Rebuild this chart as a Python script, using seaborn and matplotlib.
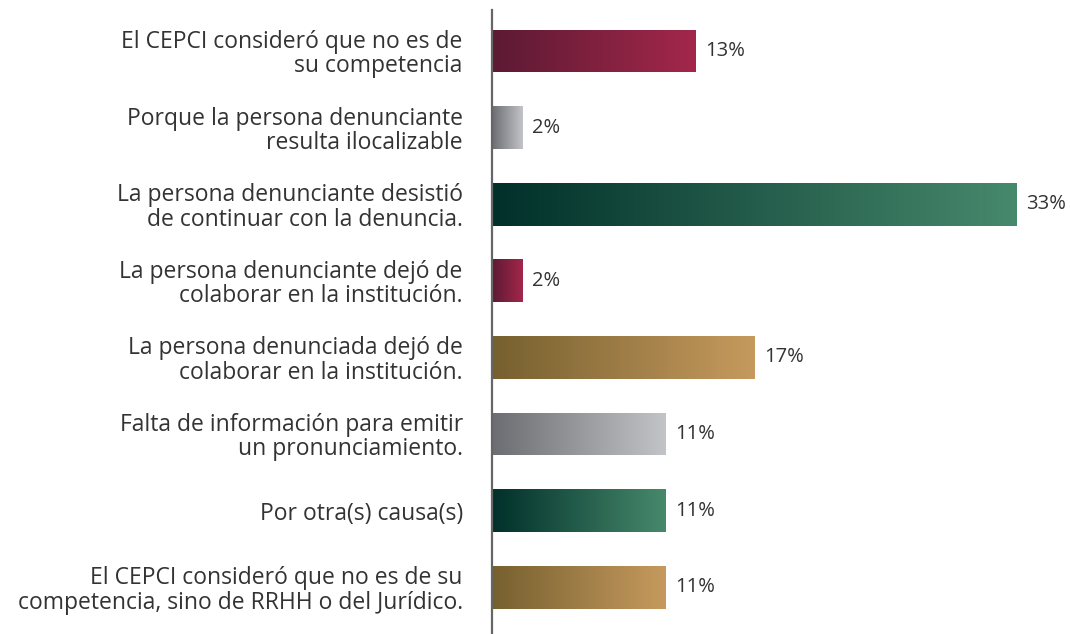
import numpy as np
import pandas as pd
import seaborn as sns
import matplotlib.pyplot as plt
from matplotlib.colors import LinearSegmentedColormap

categories = [
    "El CEPCI consideró que no es de\nsu competencia",
    "Porque la persona denunciante\nresulta ilocalizable",
    "La persona denunciante desistió\nde continuar con la denuncia.",
    "La persona denunciante dejó de\ncolaborar en la institución.",
    "La persona denunciada dejó de\ncolaborar en la institución.",
    "Falta de información para emitir\nun pronunciamiento.",
    "Por otra(s) causa(s)",
    "El CEPCI consideró que no es de su\ncompetencia, sino de RRHH o del Jurídico.",
]
# bar lengths as measured; labels as printed
values = [12.8, 1.9, 33.0, 1.9, 16.5, 10.9, 10.9, 10.9]
value_labels = ["13%", "2%", "33%", "2%", "17%", "11%", "11%", "11%"]

# gradient (dark -> light) per bar
maroon = ("#5c1a33", "#a3274b")
gray = ("#6c6d72", "#c3c4c8")
green = ("#01302a", "#47896c")
gold = ("#76602f", "#c69a5e")
bar_grads = [maroon, gray, green, maroon, gold, gray, green, gold]

sns.set_theme(style="white")
plt.rcParams['font.family'] = ['Open Sans', 'DejaVu Sans']

df = pd.DataFrame({"causa": categories, "pct": values})

fig = plt.figure(figsize=(10.7, 6.34), dpi=100)
ax = fig.add_axes([492 / 1070, 0, 1 - 492 / 1070, 624 / 634])

sns.barplot(data=df, x="pct", y="causa", orient="h", ax=ax,
            color="white", width=0.56, linewidth=0)

xmax = 578 / 15.9

for patch, (c0, c1), lab in zip(ax.patches, bar_grads, value_labels):
    x0, y0 = patch.get_x(), patch.get_y()
    w, h = patch.get_width(), patch.get_height()
    cmap = LinearSegmentedColormap.from_list("g", [c0, c1])
    grad = np.linspace(0, 1, 256).reshape(1, -1)
    im = ax.imshow(grad, cmap=cmap, aspect="auto",
                   extent=[x0, x0 + w, y0 + h, y0], zorder=2)
    im.set_clip_path(patch)
    ax.text(x0 + w + 0.6, y0 + h / 2, lab, va="center", ha="left",
            fontsize=14.5, color="#333333")

ax.set_xlim(0, xmax)
ax.set_ylim(7.61, -0.535)

for s in ["top", "right", "bottom"]:
    ax.spines[s].set_visible(False)
ax.spines["left"].set_color("#666666")
ax.spines["left"].set_linewidth(1.6)
ax.set_xticks([])
ax.set_xlabel("")
ax.set_ylabel("")
ax.tick_params(axis="y", length=0, pad=21, labelsize=16.5, labelcolor="#333333")
for t in ax.get_yticklabels():
    t.set_horizontalalignment("right")
    t.set_linespacing(1.02)

fig.savefig("out.png", dpi=100)
